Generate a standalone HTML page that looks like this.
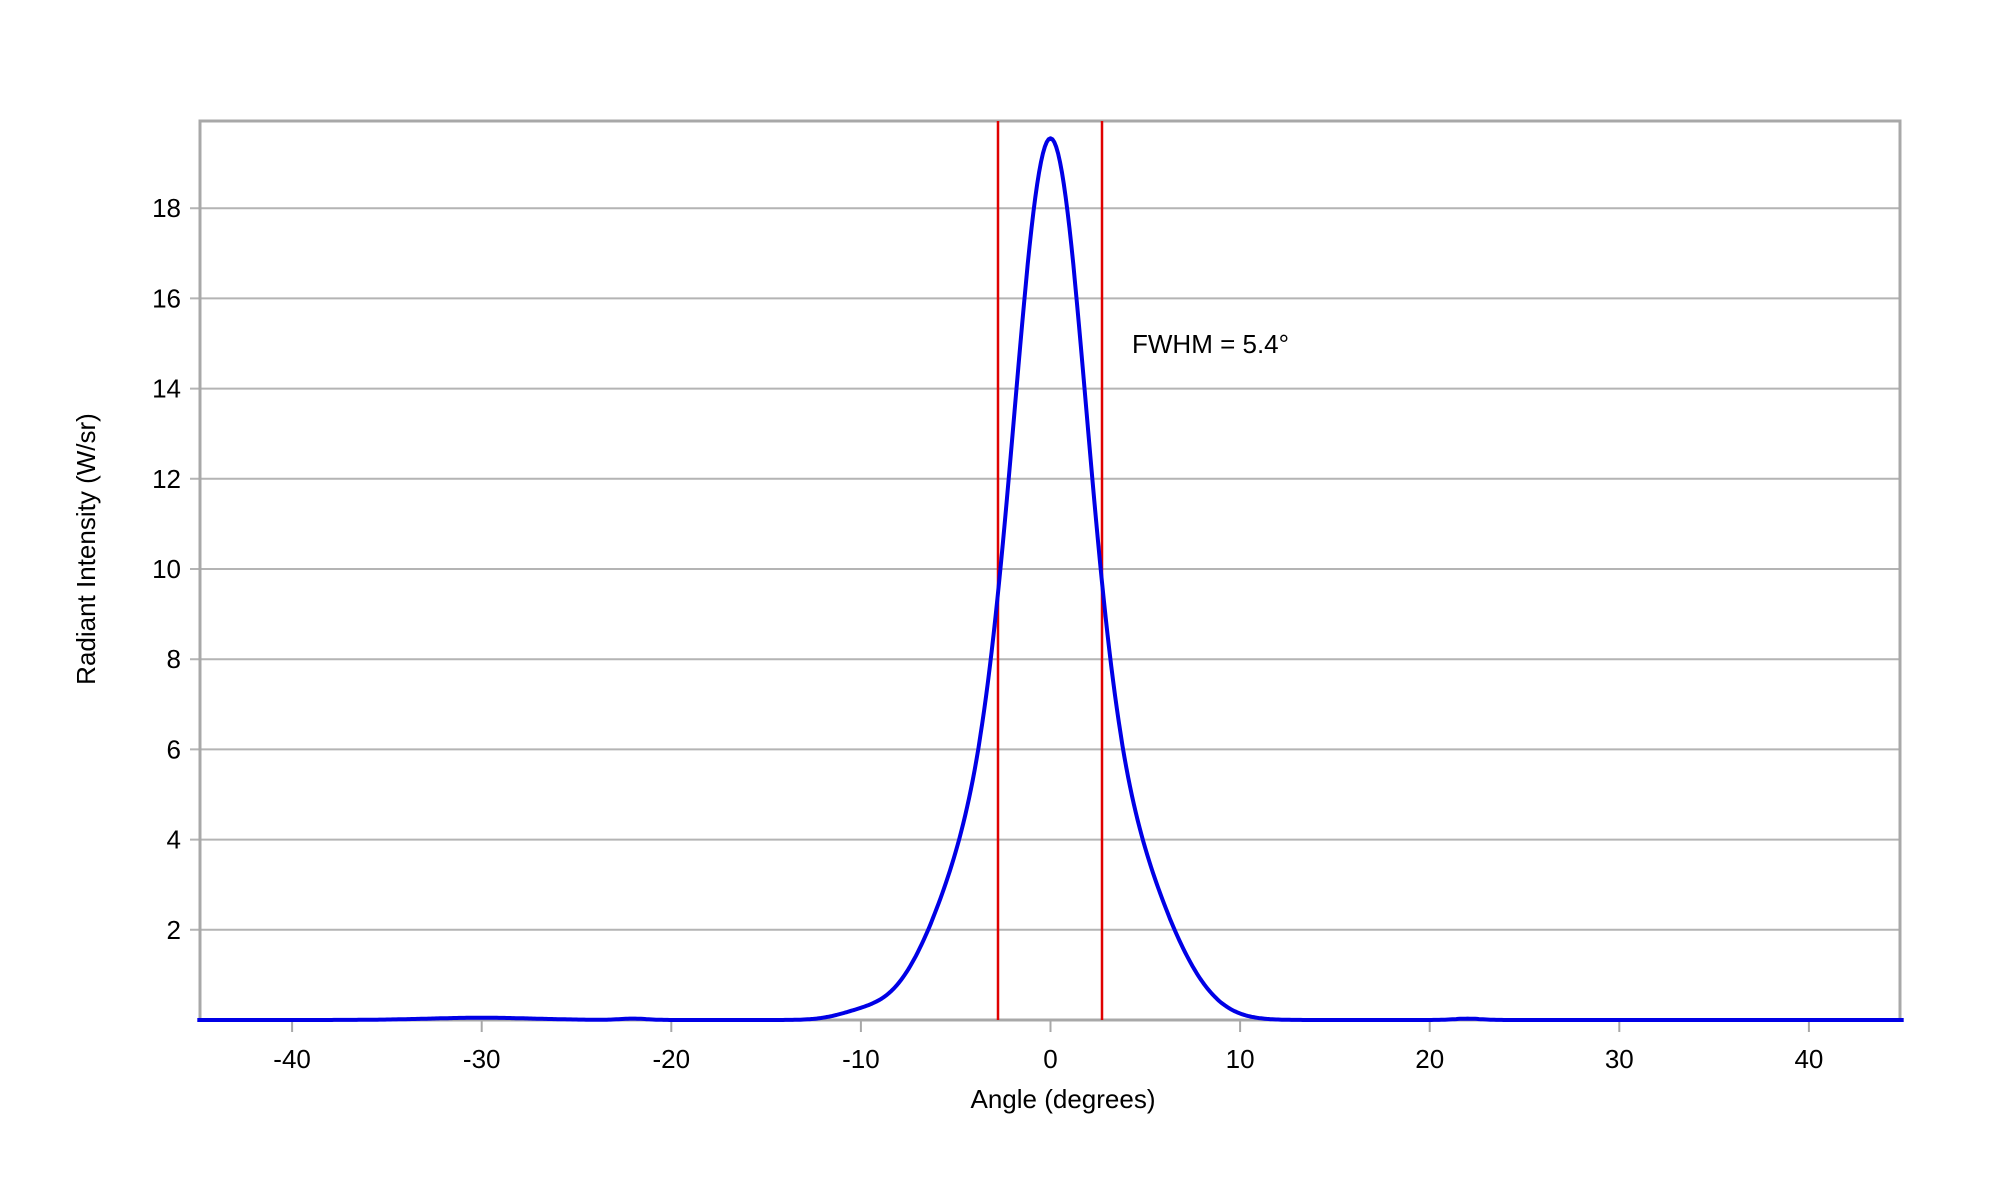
<!DOCTYPE html>
<html><head><meta charset="utf-8"><style>
html,body{margin:0;padding:0;background:#fff}
svg{display:block}
text{font-family:"Liberation Sans",Arial,sans-serif;fill:#000}
</style></head><body>
<svg id="s" width="2000" height="1200" viewBox="0 0 2000 1200" xmlns="http://www.w3.org/2000/svg">
<g id="grid" stroke="#b4b4b4" stroke-width="2"></g>
<rect x="200" y="121" width="1700" height="899" fill="none" stroke="#a8a8a8" stroke-width="3"/>
<g id="ticks" stroke="#a8a8a8" stroke-width="2"></g>
<g id="lab" font-size="26"></g>
<line x1="998" y1="121" x2="998" y2="1020" stroke="#e00000" stroke-width="2.5"/>
<line x1="1102" y1="121" x2="1102" y2="1020" stroke="#e00000" stroke-width="2.5"/>
<polyline id="curve" fill="none" stroke="#0000e6" stroke-width="4" stroke-linejoin="round"/>
<text x="1132" y="353" font-size="26">FWHM = 5.4°</text>
<text x="1063" y="1108" font-size="26" text-anchor="middle">Angle (degrees)</text>
<text transform="translate(95,549) rotate(-90)" font-size="26" text-anchor="middle">Radiant Intensity (W/sr)</text>
</svg>
<script>
var X=function(a){return 1050.5+18.96*a},Y=function(v){return 1020-45.1*v};
var g=document.getElementById('grid'),t=document.getElementById('ticks'),l=document.getElementById('lab'),NS='http://www.w3.org/2000/svg';
function el(p,n,a,txt){var e=document.createElementNS(NS,n);for(var k in a)e.setAttribute(k,a[k]);if(txt!=null)e.textContent=txt;p.appendChild(e);}
for(var v=2;v<=18;v+=2){var y=Y(v);el(g,'line',{x1:190,y1:y,x2:1900,y2:y});el(l,'text',{x:181,y:y+9,'text-anchor':'end'},v);}
for(var a=-40;a<=40;a+=10){var x=X(a);el(t,'line',{x1:x,y1:1020,x2:x,y2:1032});el(l,'text',{x:x,y:1068,'text-anchor':'middle'},a);}
function f(a){var s=Math.abs(a);
var n=14.05*Math.exp(-a*a/(2*1.816*1.816));
var w=5.5*Math.exp(-Math.pow(s/(a<0?6.4:6.5),3));
var e=0.05*Math.exp(-Math.pow((a+30)/4,2))+0.03*Math.exp(-Math.pow((a+22)/1,2))+0.15*Math.exp(-Math.pow((a+10)/1.8,2))+0.03*Math.exp(-Math.pow((a-22)/1,2));
return n+w+e;}
var pts=[];for(var a=-45;a<=45.001;a+=0.1){pts.push(X(a).toFixed(1)+','+Y(f(a)).toFixed(1));}
document.getElementById('curve').setAttribute('points',pts.join(' '));
</script>
</body></html>
